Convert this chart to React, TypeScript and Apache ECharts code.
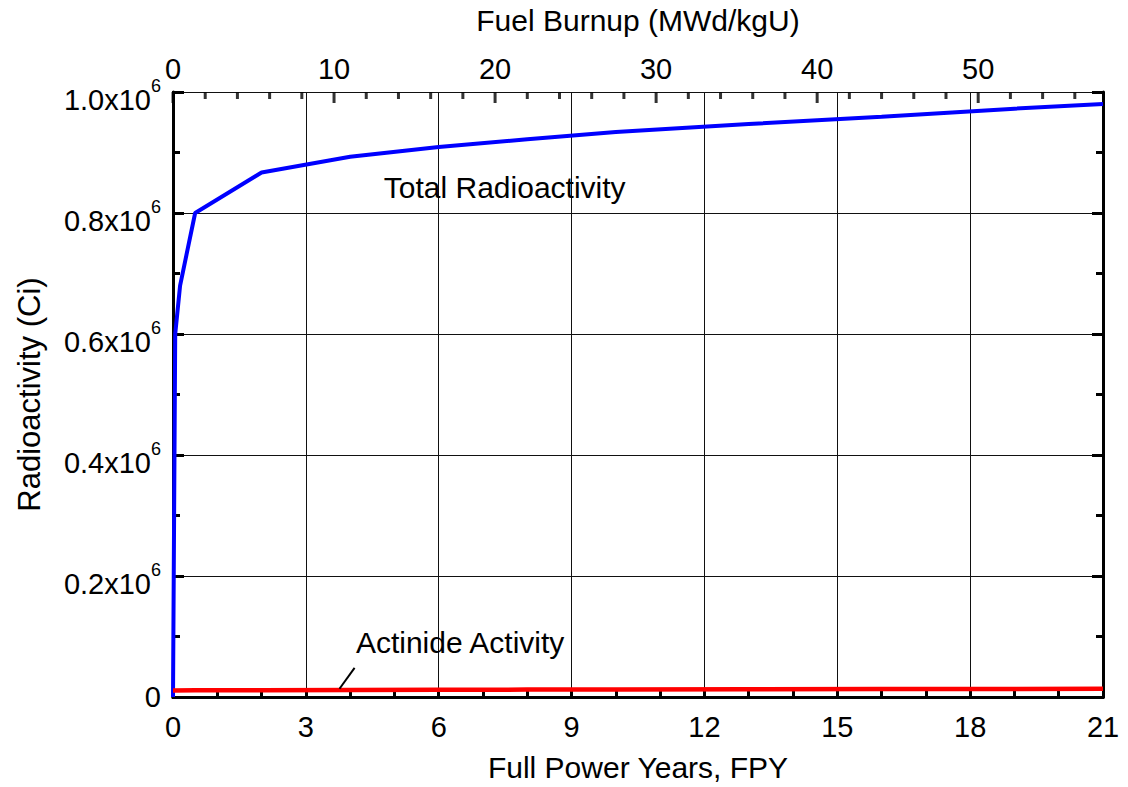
import React, { useEffect, useRef } from "react";
import * as echarts from "echarts";

const fpy = [0, 0.05, 0.16, 0.5, 2, 4, 6, 8, 10, 13, 16, 19, 21];
const totalCi = [0, 600000, 680000, 800000, 867000, 893000, 909000, 922000, 934000, 947000, 959000, 972500, 980000];
const actFpy = [0, 0.5, 2, 4, 6, 8, 10, 13, 16, 19, 21];
const actCi = [10800, 11000, 11300, 11600, 11900, 12200, 12500, 12800, 13100, 13400, 13600];

const burnupMajorTicks = [0, 10, 20, 30, 40, 50];
const burnupMinorTicks = [2, 4, 6, 8, 12, 14, 16, 18, 22, 24, 26, 28, 32, 34, 36, 38, 42, 44, 46, 48, 52, 54, 56];

const xTitle = "Full Power Years, FPY";
const topTitle = "Fuel Burnup (MWd/kgU)";
const yTitle = "Radioactivity (Ci)";
const totalLabel = "Total Radioactivity";
const actLabel = "Actinide Activity";
const burnupMax = 57.75;
const yMax = 1000000;

const FONT = "'Liberation Sans', Arial, sans-serif";
const FS = 29;
const TFS = 30;

export default function App() {
  const ref = useRef<HTMLDivElement>(null);
  useEffect(() => {
    if (!ref.current) return;
    const chart = echarts.init(ref.current, null, { renderer: "svg" });
    const axisLine = { show: true, lineStyle: { color: "#000", width: 3 } };
    const label = { color: "#000", fontSize: FS, fontFamily: FONT };
    // tick-only axis shifted inward so its outward ticks end on the frame (inside ticks)
    const tickAxis = (base: any, interval: number, len: number) => ({
      ...base,
      interval,
      offset: -len,
      axisLine: { show: false },
      axisTick: { show: true, length: len + 1, lineStyle: { color: "#000", width: 3 } },
      axisLabel: { show: false },
      splitLine: { show: false },
    });
    const xB = { type: "value", position: "bottom", min: 0, max: 21 };
    const xT = { type: "value", position: "top", min: 0, max: burnupMax };
    const yL = { type: "value", position: "left", min: 0, max: yMax };
    const yR = { type: "value", position: "right", min: 0, max: yMax };
    const option: any = {
      animation: false,
      backgroundColor: "#fff",
      grid: { left: 173, right: 25, top: 92, bottom: 86, containLabel: false },
      xAxis: [
        {
          ...xB, interval: 3,
          axisLine, axisTick: { show: false },
          axisLabel: { ...label, margin: 15 },
          splitLine: { show: true, lineStyle: { color: "#111", width: 1 } },
          name: xTitle, nameLocation: "middle", nameGap: 55,
          nameTextStyle: { color: "#000", fontSize: TFS, fontFamily: FONT },
        },
        tickAxis(xB, 1, 6),
        {
          ...xT, interval: 10,
          axisLine, axisTick: { show: false },
          axisLabel: { ...label, margin: 9, showMaxLabel: false },
          splitLine: { show: false },
          name: topTitle, nameLocation: "middle", nameGap: 57,
          nameTextStyle: { color: "#000", fontSize: TFS, fontFamily: FONT },
        },
      ],
      yAxis: [
        {
          ...yL, interval: 200000,
          axisLine, axisTick: { show: false },
          splitLine: { show: true, lineStyle: { color: "#111", width: 1 } },
          axisLabel: {
            margin: 12,
            formatter: (v: number) => (v === 0 ? "{z|0}" : `{b|${(v / 1e6).toFixed(1)}x10}{s|6}`),
            rich: {
              z: { color: "#000", fontSize: FS, fontFamily: FONT },
              b: { color: "#000", fontSize: FS, fontFamily: FONT, lineHeight: 44, verticalAlign: "bottom" },
              s: { color: "#000", fontSize: 18, fontFamily: FONT, verticalAlign: "top", padding: [7, 0, 0, 0] },
            },
          },
          name: yTitle, nameLocation: "middle", nameGap: 128, nameRotate: 90,
          nameTextStyle: { color: "#000", fontSize: 31, fontFamily: FONT },
        },
        tickAxis(yL, 200000, 11),
        tickAxis(yL, 100000, 7),
        {
          ...yR, interval: 200000,
          axisLine, axisTick: { show: false },
          axisLabel: { show: false }, splitLine: { show: false },
        },
        tickAxis(yR, 200000, 11),
        tickAxis(yR, 100000, 7),
      ],
      series: [
        {
          type: "line", name: "Total", xAxisIndex: 0, yAxisIndex: 0, symbol: "none",
          data: fpy.map((x, i) => [x, totalCi[i]]),
          lineStyle: { color: "#0000ff", width: 4 }, z: 3,
        },
        {
          type: "line", name: "Actinide", xAxisIndex: 0, yAxisIndex: 0, symbol: "none",
          data: actFpy.map((x, i) => [x, actCi[i]]),
          lineStyle: { color: "#ff0000", width: 4.5 }, z: 4,
        },
        {
          type: "scatter", name: "topMajorTicks", xAxisIndex: 2, yAxisIndex: 0, silent: true,
          data: burnupMajorTicks.map((b) => [b, yMax]),
          symbol: "rect", symbolSize: [3, 11], symbolOffset: [0, 5.5],
          itemStyle: { color: "#000" }, z: 6,
        },
        {
          type: "scatter", name: "topMinorTicks", xAxisIndex: 2, yAxisIndex: 0, silent: true,
          data: burnupMinorTicks.map((b) => [b, yMax]),
          symbol: "rect", symbolSize: [3, 7], symbolOffset: [0, 3.5],
          itemStyle: { color: "#000" }, z: 6,
        },
      ],
    };
    chart.setOption(option);
    const px = (x: number, y: number) => chart.convertToPixel({ xAxisIndex: 0, yAxisIndex: 0 }, [x, y]) as number[];
    const t1 = px(4.76, 842000);
    const t2 = px(4.13, 90000);
    const l1 = px(4.1, 48000);
    const l2 = px(3.76, 13600);
    chart.setOption({
      graphic: [
        { type: "text", x: t1[0], y: t1[1], style: { text: totalLabel, fill: "#000", fontSize: TFS, fontFamily: FONT, verticalAlign: "middle", align: "left" }, z: 10 },
        { type: "text", x: t2[0], y: t2[1], style: { text: actLabel, fill: "#000", fontSize: TFS, fontFamily: FONT, verticalAlign: "middle", align: "left" }, z: 10 },
        { type: "line", shape: { x1: l1[0], y1: l1[1], x2: l2[0], y2: l2[1] }, style: { stroke: "#000", lineWidth: 2 }, z: 10 },
      ],
    });
    return () => chart.dispose();
  }, []);
  return <div ref={ref} style={{ position: "fixed", left: 0, top: 0, width: 1128, height: 787 }} />;
}
